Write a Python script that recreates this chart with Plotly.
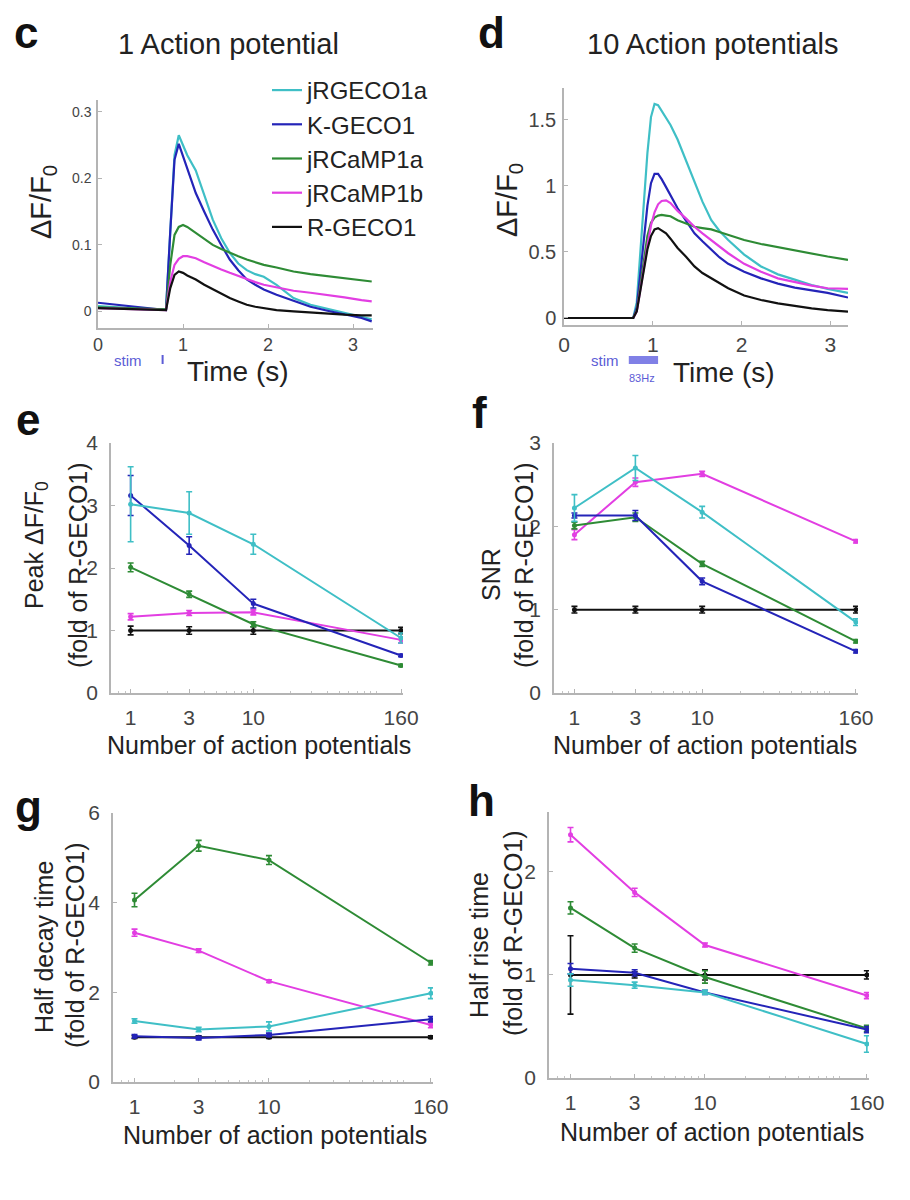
import plotly.graph_objects as go

W, H = 910, 1200
# the page puts the figure a few pixels in from the corner; positions below
# are measured on the reference, so pull everything back by that amount
OX, OY = 7, 8
FONT = "Arial, Liberation Sans, sans-serif"
GRAY = "#b4b4b4"
TICK = "#444444"
TXT = "#222222"

names = ["jRGECO1a", "K-GECO1", "jRCaMP1a", "jRCaMP1b", "R-GECO1"]
colors = ["#3fbfc6", "#2424b8", "#2e8b35", "#e23ee2", "#111111"]

# --- c : response to 1 action potential (dF/F0 vs time, s)
t_1ap = [0, 0.2, 0.4, 0.6, 0.8, 0.85, 0.9, 0.95, 1.0, 1.05, 1.15, 1.25, 1.35,
         1.45, 1.55, 1.65, 1.75, 1.85, 1.95, 2.1, 2.3, 2.5, 2.7, 2.9, 3.1, 3.22]
ap1_jrgeco1a = [0.008, 0.006, 0.004, 0.003, 0.003, 0.13, 0.235, 0.265, 0.25, 0.235, 0.212,
                0.175, 0.138, 0.11, 0.088, 0.072, 0.062, 0.056, 0.052, 0.04, 0.02, 0.01,
                0.004, -0.002, -0.008, -0.012]
ap1_kgeco1 = [0.013, 0.01, 0.007, 0.004, 0.002, 0.12, 0.228, 0.252, 0.233, 0.215, 0.178,
              0.15, 0.123, 0.1, 0.078, 0.062, 0.048, 0.04, 0.033, 0.025, 0.016, 0.007,
              0.001, -0.004, -0.01, -0.015]
ap1_jrcamp1a = [0.006, 0.005, 0.004, 0.003, 0.003, 0.07, 0.115, 0.127, 0.13, 0.127, 0.118,
                0.108, 0.1, 0.094, 0.088, 0.083, 0.078, 0.074, 0.07, 0.066, 0.06, 0.056,
                0.053, 0.05, 0.047, 0.045]
ap1_jrcamp1b = [0.005, 0.004, 0.003, 0.002, 0.002, 0.045, 0.07, 0.079, 0.083, 0.083, 0.08,
                0.074, 0.068, 0.063, 0.058, 0.053, 0.048, 0.044, 0.04, 0.036, 0.031, 0.028,
                0.025, 0.021, 0.017, 0.015]
ap1_rgeco1 = [0.005, 0.004, 0.003, 0.002, 0.002, 0.035, 0.055, 0.06, 0.058, 0.054, 0.048,
              0.04, 0.033, 0.026, 0.02, 0.015, 0.01, 0.007, 0.005, 0.002, 0.0, -0.002,
              -0.004, -0.005, -0.006, -0.006]

# --- d : response to 10 action potentials
t_10ap = [0, 0.4, 0.78, 0.82, 0.86, 0.9, 0.94, 0.98, 1.02, 1.06, 1.1, 1.15, 1.2, 1.28,
          1.38, 1.47, 1.56, 1.66, 1.75, 1.85, 2.03, 2.22, 2.41, 2.6, 2.79, 2.97, 3.2]
ap10_jrgeco1a = [0, 0, 0, 0.12, 0.5, 0.9, 1.25, 1.52, 1.62, 1.61, 1.57, 1.52, 1.46, 1.35,
                 1.18, 1.02, 0.88, 0.74, 0.66, 0.59, 0.48, 0.39, 0.33, 0.29, 0.25, 0.22, 0.19]
ap10_kgeco1 = [0, 0, 0, 0.08, 0.35, 0.62, 0.85, 1.02, 1.09, 1.09, 1.05, 0.99, 0.93, 0.83,
               0.73, 0.64, 0.58, 0.52, 0.46, 0.41, 0.35, 0.3, 0.26, 0.23, 0.21, 0.19, 0.155]
ap10_jrcamp1a = [0, 0, 0, 0.06, 0.25, 0.45, 0.62, 0.72, 0.76, 0.775, 0.78, 0.775, 0.77, 0.74,
                 0.715, 0.69, 0.68, 0.67, 0.65, 0.63, 0.59, 0.56, 0.535, 0.51, 0.485, 0.465, 0.44]
ap10_jrcamp1b = [0, 0, 0, 0.05, 0.2, 0.38, 0.55, 0.7, 0.8, 0.86, 0.885, 0.89, 0.87, 0.81,
                 0.75, 0.69, 0.64, 0.59, 0.54, 0.49, 0.41, 0.35, 0.3, 0.27, 0.245, 0.225, 0.22]
ap10_rgeco1 = [0, 0, 0, 0.05, 0.2, 0.38, 0.52, 0.62, 0.67, 0.68, 0.665, 0.64, 0.6, 0.53,
               0.46, 0.39, 0.34, 0.3, 0.26, 0.225, 0.17, 0.136, 0.11, 0.09, 0.073, 0.06, 0.048]

# --- e-h : summary vs number of action potentials (fold of R-GECO1)
n_ap = [1, 3, 10, 160]
n_ap_labels = ["1", "3", "10", "160"]

peak_jrgeco1a = [3.02, 2.88, 2.38, 0.88]
peak_jrgeco1a_err = [0.6, 0.34, 0.16, 0.08]
peak_kgeco1 = [3.16, 2.36, 1.43, 0.6]
peak_kgeco1_err = [0.32, 0.14, 0.07, 0.02]
peak_jrcamp1a = [2.01, 1.58, 1.1, 0.44]
peak_jrcamp1a_err = [0.07, 0.05, 0.04, 0.02]
peak_jrcamp1b = [1.22, 1.28, 1.29, 0.85]
peak_jrcamp1b_err = [0.05, 0.04, 0.04, 0.05]
peak_rgeco1 = [1.0, 1.0, 1.0, 1.0]
peak_rgeco1_err = [0.07, 0.06, 0.06, 0.05]

snr_jrgeco1a = [2.22, 2.7, 2.17, 0.85]
snr_jrgeco1a_err = [0.16, 0.15, 0.07, 0.04]
snr_kgeco1 = [2.13, 2.13, 1.34, 0.5]
snr_kgeco1_err = [0.03, 0.06, 0.04, 0.02]
snr_jrcamp1a = [2.01, 2.11, 1.55, 0.62]
snr_jrcamp1a_err = [0.04, 0.05, 0.03, 0.02]
snr_jrcamp1b = [1.9, 2.53, 2.63, 1.82]
snr_jrcamp1b_err = [0.06, 0.05, 0.03, 0.02]
snr_rgeco1 = [1.0, 1.0, 1.0, 1.0]
snr_rgeco1_err = [0.04, 0.04, 0.04, 0.04]

decay_jrgeco1a = [1.36, 1.17, 1.24, 1.98]
decay_jrgeco1a_err = [0.05, 0.05, 0.1, 0.12]
decay_kgeco1 = [1.02, 0.98, 1.05, 1.4]
decay_kgeco1_err = [0.04, 0.04, 0.04, 0.06]
decay_jrcamp1a = [4.06, 5.27, 4.95, 2.66]
decay_jrcamp1a_err = [0.15, 0.12, 0.1, 0.05]
decay_jrcamp1b = [3.33, 2.93, 2.25, 1.27]
decay_jrcamp1b_err = [0.08, 0.04, 0.03, 0.06]
decay_rgeco1 = [1.0, 1.0, 1.0, 1.0]
decay_rgeco1_err = [0.03, 0.03, 0.03, 0.03]

rise_jrgeco1a = [0.95, 0.9, 0.83, 0.33]
rise_jrgeco1a_err = [0.06, 0.03, 0.02, 0.08]
rise_kgeco1 = [1.06, 1.02, 0.83, 0.47]
rise_kgeco1_err = [0.05, 0.03, 0.02, 0.03]
rise_jrcamp1a = [1.65, 1.26, 0.98, 0.48]
rise_jrcamp1a_err = [0.06, 0.04, 0.06, 0.03]
rise_jrcamp1b = [2.36, 1.8, 1.29, 0.8]
rise_jrcamp1b_err = [0.07, 0.04, 0.02, 0.03]
rise_rgeco1 = [1.0, 1.0, 1.0, 1.0]
rise_rgeco1_err = [0.38, 0.03, 0.05, 0.04]

# panel boxes in pixels: left, right, top, bottom
boxes = {
    "c": (97, 372, 100, 328),
    "d": (563, 847, 88, 325),
    "e": (110, 402, 443, 693),
    "f": (553, 857, 443, 693),
    "g": (112, 432, 813, 1082),
    "h": (548, 868, 812, 1078),
}


def px(x):
    return (x - OX) / W


def py(y):
    return 1 - (y - OY) / H


def domains(box):
    l, r, t, b = box
    return [px(l), px(r)], [py(b), py(t)]


fig = go.Figure()

# time traces
ap1 = [ap1_jrgeco1a, ap1_kgeco1, ap1_jrcamp1a, ap1_jrcamp1b, ap1_rgeco1]
ap10 = [ap10_jrgeco1a, ap10_kgeco1, ap10_jrcamp1a, ap10_jrcamp1b, ap10_rgeco1]
for i, name in enumerate(names):
    fig.add_trace(go.Scatter(x=t_1ap, y=ap1[i], mode="lines", name=name,
                             line=dict(color=colors[i], width=2.2),
                             xaxis="x", yaxis="y", showlegend=True))
for i, name in enumerate(names):
    fig.add_trace(go.Scatter(x=t_10ap, y=ap10[i], mode="lines", name=name,
                             line=dict(color=colors[i], width=2.2),
                             xaxis="x2", yaxis="y2", showlegend=False))

# summary panels
summary = [
    ("x3", "y3", [peak_jrgeco1a, peak_kgeco1, peak_jrcamp1a, peak_jrcamp1b, peak_rgeco1],
     [peak_jrgeco1a_err, peak_kgeco1_err, peak_jrcamp1a_err, peak_jrcamp1b_err, peak_rgeco1_err]),
    ("x4", "y4", [snr_jrgeco1a, snr_kgeco1, snr_jrcamp1a, snr_jrcamp1b, snr_rgeco1],
     [snr_jrgeco1a_err, snr_kgeco1_err, snr_jrcamp1a_err, snr_jrcamp1b_err, snr_rgeco1_err]),
    ("x5", "y5", [decay_jrgeco1a, decay_kgeco1, decay_jrcamp1a, decay_jrcamp1b, decay_rgeco1],
     [decay_jrgeco1a_err, decay_kgeco1_err, decay_jrcamp1a_err, decay_jrcamp1b_err, decay_rgeco1_err]),
    ("x6", "y6", [rise_jrgeco1a, rise_kgeco1, rise_jrcamp1a, rise_jrcamp1b, rise_rgeco1],
     [rise_jrgeco1a_err, rise_kgeco1_err, rise_jrcamp1a_err, rise_jrcamp1b_err, rise_rgeco1_err]),
]
for xa, ya, vals, errs in summary:
    for i in [4, 3, 2, 1, 0]:
        fig.add_trace(go.Scatter(
            x=n_ap, y=vals[i], mode="lines+markers", name=names[i],
            line=dict(color=colors[i], width=2),
            marker=dict(color=colors[i], size=5),
            error_y=dict(type="data", array=errs[i], color=colors[i], thickness=1.6, width=3),
            xaxis=xa, yaxis=ya, showlegend=False))


def axis(dom, anchor, size, **kw):
    d = dict(domain=dom, anchor=anchor, showline=True, linecolor=GRAY, linewidth=1.5,
             ticks="inside", ticklen=4, tickcolor=GRAY, tickwidth=1.2,
             showgrid=False, zeroline=False, automargin=False,
             tickfont=dict(family=FONT, size=size, color=TICK))
    d.update(kw)
    return d


layout_axes = {}
keys = ["c", "d", "e", "f", "g", "h"]
yranges = {"c": [-0.025, 0.318], "d": [-0.053, 1.74], "e": [0, 4], "f": [0, 3],
           "g": [0, 6], "h": [0, 2.58]}
ytickvals = {"c": [0, 0.1, 0.2, 0.3], "d": [0, 0.5, 1, 1.5], "e": [0, 1, 2, 3, 4],
             "f": [0, 1, 2, 3], "g": [0, 2, 4, 6], "h": [0, 1, 2]}
yticktext = {"c": ["0", "0.1", "0.2", "0.3"], "d": ["0", "0.5", "1", "1.5"]}
for k, key in enumerate(keys):
    n = "" if k == 0 else str(k + 1)
    xd, yd = domains(boxes[key])
    if key in ("c", "d"):
        xr = [0, 3.235] if key == "c" else [0, 3.2]
        layout_axes["xaxis" + n] = axis(xd, "y" + n, 18 if key == "c" else 21, range=xr,
                                        tickvals=[0, 1, 2, 3], ticklabelstandoff=0)
        layout_axes["yaxis" + n] = axis(yd, "x" + n, 14 if key == "c" else 20,
                                        range=yranges[key], tickvals=ytickvals[key],
                                        ticktext=yticktext[key], ticklabelstandoff=2)
    else:
        layout_axes["xaxis" + n] = axis(xd, "y" + n, 21, type="log", range=[-0.16, 2.22],
                                        tickvals=n_ap, ticktext=n_ap_labels,
                                        ticklabelstandoff=5,
                                        minor=dict(ticks="inside", ticklen=2, tickwidth=1,
                                                   tickcolor="#c4c4c4", dtick="D1",
                                                   showgrid=False))
        layout_axes["yaxis" + n] = axis(yd, "x" + n, 21, range=yranges[key],
                                        tickvals=ytickvals[key], ticklabelstandoff=7)

annotations = []


def text(x, y, s, size, color=TXT, bold=False, angle=0, xanchor="center"):
    annotations.append(dict(
        x=px(x), y=py(y), xref="paper", yref="paper", text=("<b>%s</b>" % s) if bold else s,
        showarrow=False, textangle=angle, xanchor=xanchor, yanchor="middle",
        font=dict(family=FONT, size=size, color=color)))


# panel letters
for letter, (x, y) in {"c": (25, 32), "d": (490, 32), "e": (27, 420), "f": (478, 412),
                       "g": (27, 806), "h": (480, 800)}.items():
    text(x, y, letter, 44, color="#111", bold=True)

text(227, 44, "1 Action potential", 29)
text(712, 44, "10 Action potentials", 29)

text(42, 202, "ΔF/F<sub>0</sub>", 29, angle=-90)
text(508, 200, "ΔF/F<sub>0</sub>", 29, angle=-90)
text(237, 371, "Time (s)", 28)
text(723, 372, "Time (s)", 28)

text(35, 545, "Peak ΔF/F<sub>0</sub>", 25, angle=-90)
text(77, 565, "(fold of R-GECO1)", 25, angle=-90)
text(490, 575, "SNR", 25, angle=-90)
text(523, 565, "(fold of R-GECO1)", 25, angle=-90)
text(43, 947, "Half decay time", 25, angle=-90)
text(74, 945, "(fold of R-GECO1)", 25, angle=-90)
text(478, 945, "Half rise time", 25, angle=-90)
text(512, 933, "(fold of R-GECO1)", 25, angle=-90)

text(258, 745, "Number of action potentials", 25)
text(704, 745, "Number of action potentials", 25)
text(274, 1135, "Number of action potentials", 25)
text(711, 1132, "Number of action potentials", 25)

STIM = "#5c5cd6"
text(127, 360, "stim", 15, color=STIM)
text(604, 360, "stim", 15, color=STIM)
text(641, 378, "83Hz", 11, color=STIM)

shapes = [
    dict(type="line", xref="x", yref="paper", x0=0.76, x1=0.76,
         y0=py(364), y1=py(355), line=dict(color=STIM, width=2)),
    dict(type="rect", xref="x2", yref="paper", x0=0.73, x1=1.06,
         y0=py(364), y1=py(356), fillcolor="#8080e6", line=dict(width=0)),
]

fig.update_layout(
    width=W, height=H, margin=dict(l=0, r=0, t=0, b=0, pad=0, autoexpand=False),
    paper_bgcolor="white", plot_bgcolor="white",
    font=dict(family=FONT, color=TXT),
    showlegend=True,
    legend=dict(x=px(266), y=py(68), xanchor="left", yanchor="top",
                font=dict(family=FONT, size=24, color=TXT), bgcolor="rgba(0,0,0,0)",
                itemwidth=30, tracegroupgap=0),
    annotations=annotations, shapes=shapes,
    **layout_axes,
)

fig.write_html("out.html")
